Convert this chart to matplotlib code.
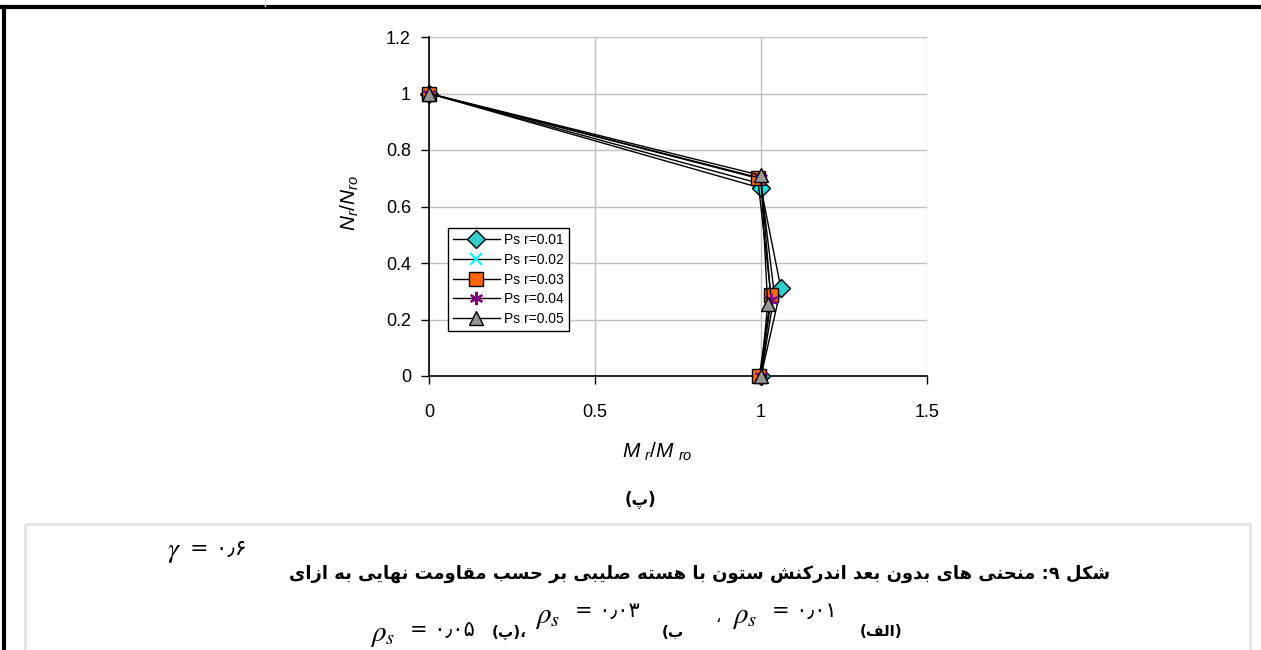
import matplotlib
matplotlib.use("Agg")
import matplotlib.pyplot as plt
from matplotlib.patches import Rectangle

plt.rcParams['font.family'] = ['Liberation Sans', 'DejaVu Sans']
plt.rcParams['mathtext.fontset'] = 'custom'
plt.rcParams['mathtext.it'] = 'Liberation Sans:italic'
plt.rcParams['mathtext.rm'] = 'Liberation Sans'

# data
labels = ["Ps r=0.01", "Ps r=0.02", "Ps r=0.03", "Ps r=0.04", "Ps r=0.05"]
m_ratio = [
    [0.0, 1.00, 1.06, 1.00],
    [0.0, 1.00, 1.04, 1.00],
    [0.0, 0.99, 1.03, 0.995],
    [0.0, 1.00, 1.03, 1.00],
    [0.0, 1.00, 1.02, 1.00],
]
n_ratio = [
    [1.0, 0.665, 0.31, 0.0],
    [1.0, 0.68, 0.29, 0.0],
    [1.0, 0.70, 0.285, 0.0],
    [1.0, 0.70, 0.27, 0.0],
    [1.0, 0.71, 0.255, 0.0],
]
x_ticks = [0, 0.5, 1, 1.5]
y_ticks = [0, 0.2, 0.4, 0.6, 0.8, 1, 1.2]

caption1 = "شکل ۹: منحنی های بدون بعد اندرکنش ستون با هسته صلیبی بر حسب مقاومت نهایی به ازای"
gamma_val = "= ۰٫۶"
rho_vals = ["= ۰٫۰۵", "= ۰٫۰۳", "= ۰٫۰۱"]
part_tags = ["(پ)", "ب)", "(الف)"]

markers = ['D', 'x', 's', (6, 2, 0), '^']
faces = ['#33CCCC', '#00FFFF', '#FF6600', '#800080', '#969696']
sizes = [9, 8.5, 9.5, 9.5, 10.5]

# Persian letters -> presentation forms (isolated, final, initial, medial)
FORMS = {
    'ا': '\uFE8D\uFE8E', 'د': '\uFEA9\uFEAA', 'ر': '\uFEAD\uFEAE',
    'ز': '\uFEAF\uFEB0', 'و': '\uFEED\uFEEE',
    'ب': '\uFE8F\uFE90\uFE91\uFE92', 'پ': '\uFB56\uFB57\uFB58\uFB59',
    'ت': '\uFE95\uFE96\uFE97\uFE98', 'ح': '\uFEA1\uFEA2\uFEA3\uFEA4',
    'س': '\uFEB1\uFEB2\uFEB3\uFEB4', 'ش': '\uFEB5\uFEB6\uFEB7\uFEB8',
    'ص': '\uFEB9\uFEBA\uFEBB\uFEBC', 'ع': '\uFEC9\uFECA\uFECB\uFECC',
    'ف': '\uFED1\uFED2\uFED3\uFED4', 'ق': '\uFED5\uFED6\uFED7\uFED8',
    'ک': '\uFB8E\uFB8F\uFB90\uFB91', 'ل': '\uFEDD\uFEDE\uFEDF\uFEE0',
    'م': '\uFEE1\uFEE2\uFEE3\uFEE4', 'ن': '\uFEE5\uFEE6\uFEE7\uFEE8',
    'ه': '\uFEE9\uFEEA\uFEEB\uFEEC', 'ی': '\uFBFC\uFBFD\uFBFE\uFBFF',
}


def fa(text):
    out = []
    for i, c in enumerate(text):
        f = FORMS.get(c)
        if f is None:
            out.append(c)
            continue
        prev = text[i - 1] if i > 0 else ''
        nxt = text[i + 1] if i + 1 < len(text) else ''
        jp = len(FORMS.get(prev, '')) == 4
        jn = len(f) == 4 and nxt in FORMS
        idx = 3 if (jp and jn) else 1 if jp else 2 if jn else 0
        out.append(f[idx])
    s = ''.join(reversed(out))
    return s.translate(str.maketrans('()', ')('))


W, H = 1261, 650
fig = plt.figure(figsize=(W / 100, H / 100), dpi=100)

# page overlay in pixel coordinates
pg = fig.add_axes([0, 0, 1, 1], zorder=0)
pg.set_xlim(0, W)
pg.set_ylim(H, 0)
pg.axis('off')
pg.plot([0, W], [7, 7], color='black', lw=3)
pg.plot([4, 4], [7, H], color='black', lw=3)
pg.plot([265, 265], [0, 6], color='#D9D9D9', lw=1)
pg.add_patch(Rectangle((25, 524), 1225, 140, fill=False, edgecolor='#E3E3E3', lw=2))

ax = fig.add_axes([429 / W, 274 / H, 498 / W, 339 / H], zorder=2)
ax.set_facecolor('none')
for i in range(len(labels)):
    ax.plot(m_ratio[i], n_ratio[i], color='black', lw=1, marker=markers[i],
            markersize=sizes[i], markerfacecolor=faces[i],
            markeredgecolor='black' if i in (0, 2, 4) else faces[i],
            markeredgewidth=1 if i in (0, 2, 4) else 1.5,
            label=labels[i], clip_on=False, zorder=3 + i)

ax.set_xlim(0, 1.5)
ax.set_ylim(0, 1.2)
ax.set_xticks(x_ticks)
ax.set_xticklabels([f"{v:g}" for v in x_ticks])
ax.set_yticks(y_ticks)
ax.set_yticklabels([f"{v:g}" for v in y_ticks])
ax.grid(True, color='#C0C0C0', lw=1)
ax.set_axisbelow(True)
for s in ('top', 'right'):
    ax.spines[s].set_visible(False)
for s in ('left', 'bottom'):
    ax.spines[s].set_linewidth(1.2)
ax.tick_params(axis='both', direction='out', length=6, width=1, labelsize=13)
ax.tick_params(axis='y', pad=7)
ax.tick_params(axis='x', pad=14)

leg = ax.legend(loc='upper left', bbox_to_anchor=(448 / W, 1 - 228 / H),
                bbox_transform=fig.transFigure, fancybox=False, framealpha=1,
                edgecolor='black', fontsize=10, handlelength=3.4, borderpad=0.35,
                labelspacing=0.42, handletextpad=0.3, borderaxespad=0)
leg.get_frame().set_linewidth(1)

pg.text(657, 452, r"$M\;{}_{r}/M\;{}_{ro}$", fontsize=15, ha='center', va='center')
pg.text(350, 203, r"$N{}_{r}/N{}_{ro}$", fontsize=15, ha='center', va='center', rotation=90)

# Persian text: DejaVu Sans bold (its oblique faces have no Arabic glyphs)
fa_font = ['DejaVu Sans']
fa_kw = dict(family=fa_font, fontweight='bold')
pg.text(640, 500, fa("(پ)"), fontsize=12, ha='center', va='center', **fa_kw)

# caption line 1
pg.text(1110, 574, fa(caption1), fontsize=12.9, ha='right', va='center', **fa_kw)
pg.text(167, 552, r"$\gamma$", math_fontfamily='stix', fontsize=20, ha='left', va='center')
pg.text(190, 549, gamma_val, family=fa_font, fontsize=16, ha='left', va='center')

# caption line 2 (visual order, left to right)
x0 = 370
pg.text(x0, 635, r"$\rho_s$", math_fontfamily='stix', fontsize=21, ha='left', va='center')
pg.text(x0 + 40, 630, rho_vals[0], family=fa_font, fontsize=15, ha='left', va='center')
pg.text(x0 + 122, 632, fa(part_tags[0]) + "،", fontsize=11, ha='left', va='center', **fa_kw)
pg.text(x0 + 165, 617, r"$\rho_s$", math_fontfamily='stix', fontsize=21, ha='left', va='center')
pg.text(x0 + 205, 611, rho_vals[1], family=fa_font, fontsize=15, ha='left', va='center')
pg.text(x0 + 292, 632, fa(part_tags[1]), fontsize=11, ha='left', va='center', **fa_kw)
pg.text(x0 + 345, 617, "،", family=fa_font, fontsize=12, ha='left', va='center')
pg.text(x0 + 362, 617, r"$\rho_s$", math_fontfamily='stix', fontsize=21, ha='left', va='center')
pg.text(x0 + 402, 611, rho_vals[2], family=fa_font, fontsize=15, ha='left', va='center')
pg.text(x0 + 490, 632, fa(part_tags[2]), fontsize=11, ha='left', va='center', **fa_kw)

fig.savefig('out.png', dpi=100)
